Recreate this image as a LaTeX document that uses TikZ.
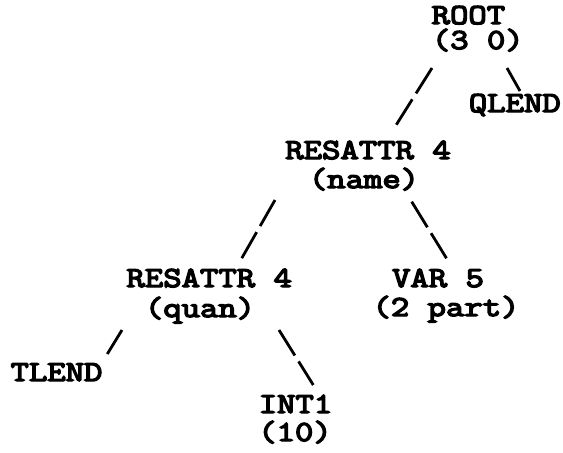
\documentclass[tikz,border=0pt]{standalone}
\usepackage{fontspec}
\newfontfamily\typer[FakeStretch=1.23,FakeBold=5]{Latin Modern Mono}
\usetikzlibrary{calc}
\begin{document}
\begin{tikzpicture}[x=0.5pt,y=-0.5pt,
  lbl/.style={anchor=base,inner sep=0pt,font=\typer\fontsize{14.5}{17}\selectfont},
  link/.style={line width=1.4pt},
  brokenlink/.style={link,dash pattern=on 15pt off 3.5pt}]
  \useasboundingbox (0,0) rectangle (563,452);
  % tree labels, one node per typed line
  \node[lbl] (root) at (468.4,24) {ROOT};
  \node[lbl] (rootv) at (477.8,49) {(3 0)};
  \node[lbl] (qlend) at (514.8,112) {QLEND};
  \node[lbl] (name) at (368,159) {RESATTR 4};
  \node[lbl] (namev) at (364,188) {(name)};
  \node[lbl] (quan) at (209.2,287) {RESATTR 4};
  \node[lbl] (quanv) at (200,317) {(quan)};
  \node[lbl] (var) at (438,287) {VAR 5};
  \node[lbl] (varv) at (446,316) {(2 part)};
  \node[lbl] (tlend) at (56.5,381) {TLEND};
  \node[lbl] (int) at (295.5,413) {INT1};
  \node[lbl] (intv) at (295,441) {(10)};
  % branches
  \draw[brokenlink] ($(rootv.base)+(-45.8,19)$) -- ($(name.base)+(25,-29)$);
  \draw[link] ($(rootv.base)+(29.2,19)$) -- ($(qlend.base)+(5.2,-21)$);
  \draw[brokenlink] ($(namev.base)+(-89,12)$) -- ($(quan.base)+(32.5,-28.7)$);
  \draw[brokenlink] ($(namev.base)+(47.7,13.7)$) -- ($(var.base)+(8.5,-28.7)$);
  \draw[link] ($(quanv.base)+(-78,13)$) -- ($(tlend.base)+(50.8,-27)$);
  \draw[brokenlink] ($(quanv.base)+(79,13)$) -- ($(int.base)+(17.8,-28)$);
\end{tikzpicture}
\end{document}
